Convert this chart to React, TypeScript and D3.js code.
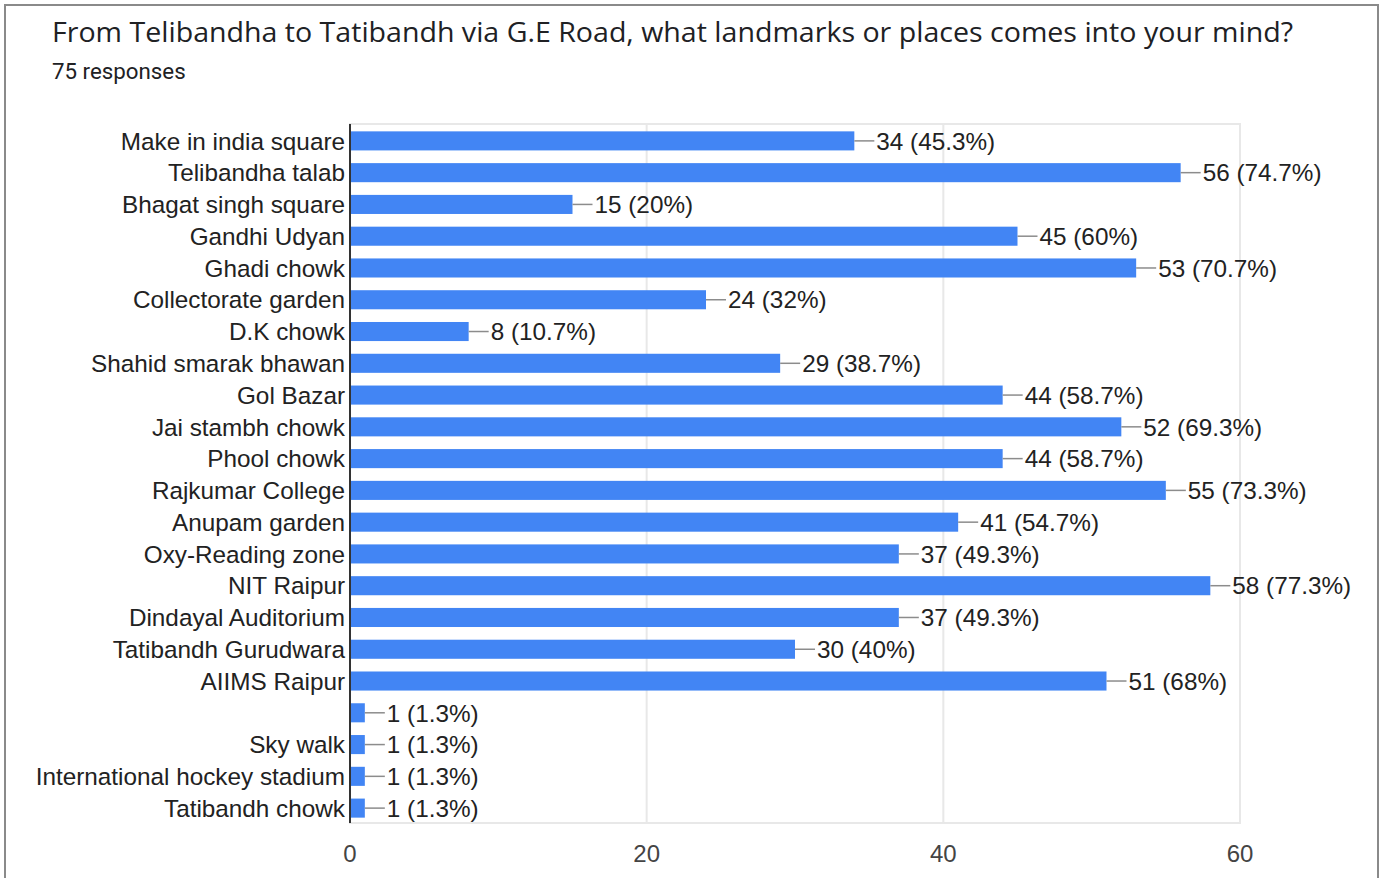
import { useEffect } from 'react';
import * as d3 from 'd3';

const title = 'From Telibandha to Tatibandh via G.E Road, what landmarks or places comes into your mind?';
const totalResponses = 75;

const places: string[] = [
  'Make in india square',
  'Telibandha talab',
  'Bhagat singh square',
  'Gandhi Udyan',
  'Ghadi chowk',
  'Collectorate garden',
  'D.K chowk',
  'Shahid smarak bhawan',
  'Gol Bazar',
  'Jai stambh chowk',
  'Phool chowk',
  'Rajkumar College',
  'Anupam garden',
  'Oxy-Reading zone',
  'NIT Raipur',
  'Dindayal Auditorium',
  'Tatibandh Gurudwara',
  'AIIMS Raipur',
  '',
  'Sky walk',
  'International hockey stadium',
  'Tatibandh chowk',
];

const counts: number[] = [34, 56, 15, 45, 53, 24, 8, 29, 44, 52, 44, 55, 41, 37, 58, 37, 30, 51, 1, 1, 1, 1];

const xTicks: number[] = [0, 20, 40, 60];

const W = 1383;
const H = 878;
const plotLeft = 350;
const plotRight = 1240;
const plotTop = 124;
const plotBottom = 823;

const pctLabel = (v: number) => {
  const p = Math.round((v / totalResponses) * 1000) / 10;
  return `${v} (${p}%)`;
};

const App: React.FC = () => {
  useEffect(() => {
    document.body.style.margin = '0';
  }, []);

  const x = d3.scaleLinear().domain([0, 60]).range([plotLeft, plotRight]);
  const y = d3
    .scaleBand<number>()
    .domain(places.map((_, i) => i))
    .range([plotTop + 1, plotBottom + 1])
    .paddingInner(0.4)
    .paddingOuter(0.2);

  const labelFont = '"Liberation Sans", Arial, sans-serif';

  return (
    <svg width={W} height={H} style={{ display: 'block' }}>
      <rect x={0} y={0} width={W} height={H} fill="#fff" />
      {/* outer card border */}
      <path d={`M5,${H} V5 H1378 V${H}`} fill="none" stroke="#8a8a8a" strokeWidth={2} />

      <text x={52} y={42} fontFamily='"Open Sans", sans-serif' fontSize={27} fill="#202124"
        textLength={1241} lengthAdjust="spacingAndGlyphs">
        {title}
      </text>
      <text x={52} y={79} fontFamily="Roboto, sans-serif" fontSize={22.3} fill="#202124">
        {totalResponses} responses
      </text>

      {/* plot frame and grid */}
      <rect x={plotLeft} y={plotTop} width={plotRight - plotLeft} height={plotBottom - plotTop}
        fill="none" stroke="#e8e8e8" strokeWidth={2} />
      {xTicks.slice(1, -1).map((t) => (
        <line key={t} x1={x(t)} x2={x(t)} y1={plotTop} y2={plotBottom} stroke="#e8e8e8" strokeWidth={2} />
      ))}

      {counts.map((v, i) => {
        const cy = (y(i) ?? 0) + y.bandwidth() / 2;
        const end = x(v);
        return (
          <g key={i}>
            <rect x={x(0)} y={y(i)} width={end - x(0)} height={y.bandwidth()} fill="#4285f4" />
            <line x1={end} x2={end + 20} y1={cy} y2={cy} stroke="#8c8c8c" strokeWidth={1.5} />
            <text x={end + 22} y={cy} dy="0.36em" fontFamily={labelFont} fontSize={24.3} fill="#222">
              {pctLabel(v)}
            </text>
            <text x={plotLeft - 5} y={cy} dy="0.36em" textAnchor="end" fontFamily={labelFont} fontSize={24.3} fill="#222">
              {places[i]}
            </text>
          </g>
        );
      })}

      <line x1={x(0)} x2={x(0)} y1={plotTop} y2={plotBottom} stroke="#333" strokeWidth={2} />

      {xTicks.map((t) => (
        <text key={t} x={x(t)} y={853} dy="0.36em" textAnchor="middle" fontFamily={labelFont} fontSize={24} fill="#444">
          {t}
        </text>
      ))}
    </svg>
  );
};

export default App;
